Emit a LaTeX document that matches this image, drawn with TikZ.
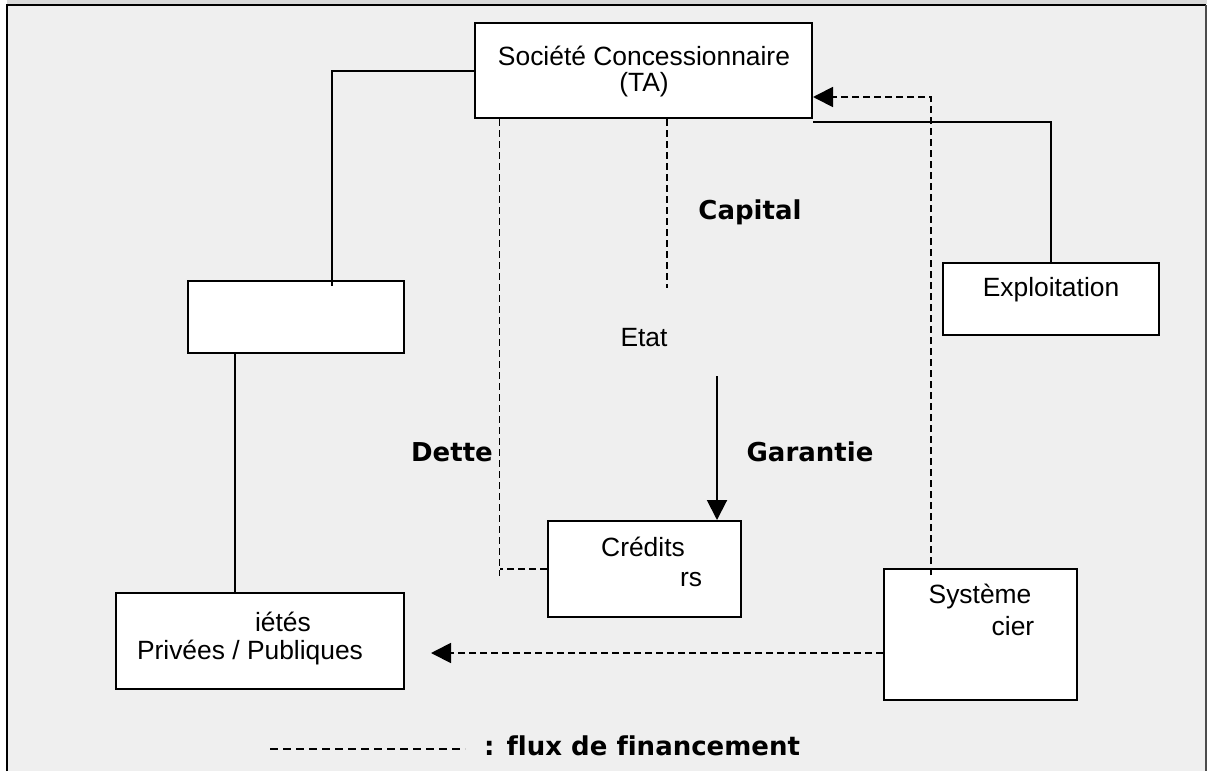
\documentclass[tikz,border=0pt]{standalone}
\usepackage{fontspec}
\setmainfont{Liberation Sans}
\newfontfamily\dvsans[Ligatures=NoCommon]{DejaVu Sans}
\usetikzlibrary{arrows.meta,calc}
\definecolor{panel}{HTML}{EFEFEF}
\tikzset{
  box/.style={draw=black, line width=2pt, fill=white, inner sep=0pt},
  txt/.style={inner sep=0pt, font=\fontsize{26.4}{26}\selectfont},
  lbl/.style={inner sep=0pt, font=\dvsans\bfseries\fontsize{26}{28}\selectfont},
  link/.style={draw=black, line width=2pt},
  flow/.style={draw=black, line width=1.8pt, dash pattern=on 7pt off 4pt},
  tip/.style={-{Triangle[length=20pt,width=20pt]}}
}
\begin{document}
\begin{tikzpicture}[x=1pt,y=-1pt]
  \useasboundingbox (0,0) rectangle (1207,771);
  % page frame
  \fill[white] (0,0) rectangle (1207,771);
  \fill[gray!30] (7,0) rectangle (1207,4);
  \fill[panel] (7,5) rectangle (1207,771);
  \draw[line width=2.2pt] (7,771) -- (7,5) -- (1206,5);
  \draw[line width=1.8pt, black!70] (1206,5) -- (1206,771);

  % boxes
  \node[box, minimum width=337pt, minimum height=95pt] (soc)   at (643.5,70.5) {};
  \node[box, minimum width=216pt, minimum height=72pt] (blank) at (296,317) {};
  \node[box, minimum width=288pt, minimum height=96pt] (priv)  at (260,641) {};
  \node[box, minimum width=193pt, minimum height=96pt] (cred)  at (644.5,569) {};
  \node[box, minimum width=193pt, minimum height=131pt] (sys)  at (980.5,634.5) {};
  \node[box, minimum width=216pt, minimum height=72pt] (expl)  at (1051,299) {};

  % box texts
  \node[txt, align=center] (socT) at (644,72) {Société Concessionnaire\\(TA)};
  \node[txt] (privA) at (283,622) {iétés};
  \node[txt] (privB) at (250,653) {Privées / Publiques};
  \node[txt] (credA) at (643,547) {Crédits};
  \node[txt] (credB) at (691,580) {rs};
  \node[txt] (sysA)  at (980,597) {Système};
  \node[txt] (sysB)  at (1013,626) {cier};
  \node[txt] (explT) at (1051,290) {Exploitation};
  \node[txt] (etat)  at (644,338) {Etat};

  % flow labels
  \node[lbl] (capital)  at (750,212) {Capital};
  \node[lbl] (dette)    at (452,452) {Dette};
  \node[lbl] (garantie) at (810,452) {Garantie};

  % ownership links
  \draw[link] (soc.west) -| ($(blank.north)+(36,6)$);
  \coordinate (b1) at ($(blank.south west)+(48,0)$);
  \draw[link] (b1) -- (b1 |- priv.north);
  \draw[link] ($(soc.south east)+(0,3)$) -| (expl.north);

  % financing flows
  \coordinate (capEnd) at ($(soc.south)+(23.5,169)$);
  \draw[flow] (capEnd |- soc.south) -- (capEnd);
  \coordinate (detEnd) at ($(soc.south west)+(25.5,457)$);
  \draw[flow] (detEnd |- soc.south) -- (detEnd);
  \draw[flow] (cred.west) -- (cred.west -| detEnd);
  \draw[flow, tip] ($(sys.north west)+(48,7)$) |- ($(soc.east)+(0,26.5)$);
  \draw[flow, tip] ($(sys.west)+(0,18.5)$) -- ($(priv.east)+(26,12)$);

  % guarantee
  \coordinate (garTop) at ($(cred.north)+(72.5,-144)$);
  \draw[link, tip] (garTop) -- (garTop |- cred.north);

  % legend
  \coordinate (legA) at (270,749);
  \coordinate (legB) at (465,749);
  \draw[flow, line width=1.6pt, dash pattern=on 8pt off 5pt] (legA) -- (legB);
  \node[lbl, anchor=west] (legT) at (484,746) {: flux de financement};
\end{tikzpicture}
\end{document}
